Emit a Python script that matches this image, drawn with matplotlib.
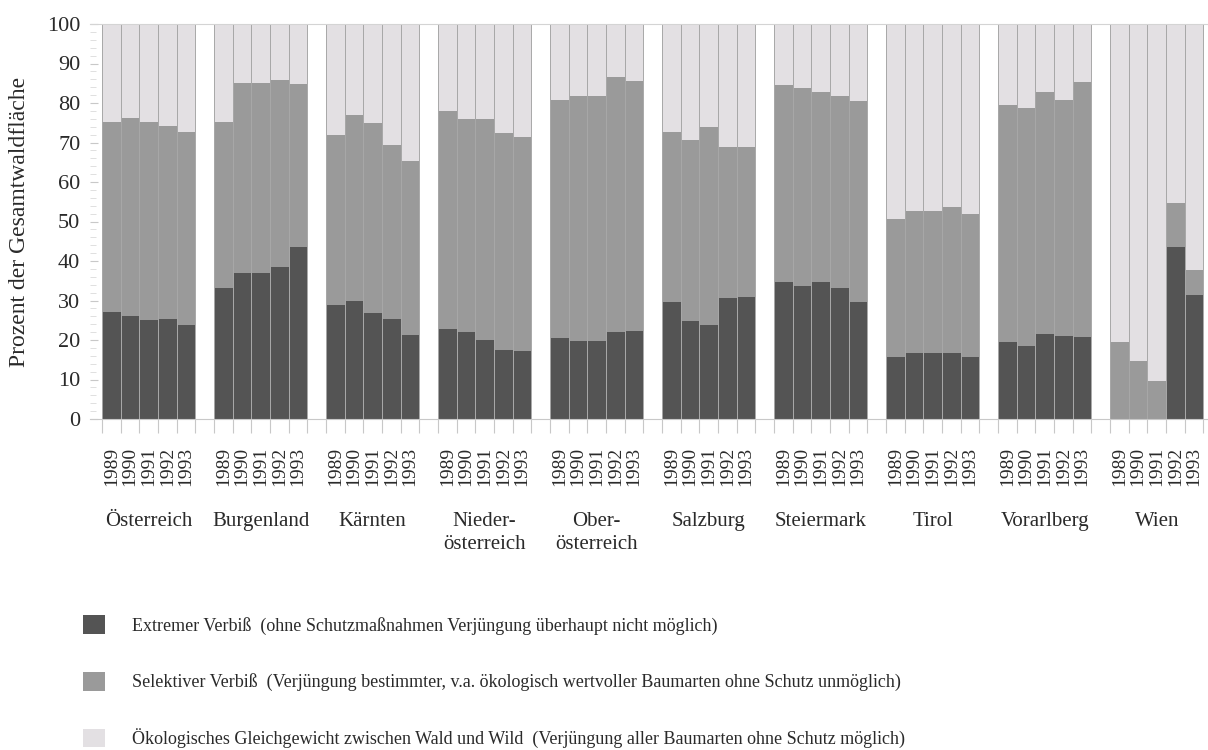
import matplotlib
matplotlib.use('Agg')
import matplotlib.pyplot as plt
from matplotlib.patches import Patch
import matplotlib.transforms as mtransforms

plt.rcParams['font.family'] = ['Liberation Serif', 'DejaVu Serif']

regions = ['Österreich', 'Burgenland', 'Kärnten', 'Nieder-\nösterreich', 'Ober-\nösterreich',
           'Salzburg', 'Steiermark', 'Tirol', 'Vorarlberg', 'Wien']
years = ['1989', '1990', '1991', '1992', '1993']

# Anteil extremer Verbiß (%)
extrem = [
    [27.0, 26.0, 25.0, 25.3, 23.9],
    [33.1, 37.0, 37.0, 38.6, 43.5],
    [28.9, 29.8, 26.8, 25.4, 21.3],
    [22.8, 21.9, 19.9, 17.5, 17.3],
    [20.6, 19.7, 19.7, 21.9, 22.2],
    [29.7, 24.7, 23.9, 30.6, 30.9],
    [34.6, 33.6, 34.6, 33.2, 29.5],
    [15.6, 16.7, 16.7, 16.7, 15.7],
    [19.4, 18.6, 21.5, 20.9, 20.7],
    [0.0, 0.0, 0.0, 43.5, 31.5],
]
# Obergrenze selektiver Verbiß (kumuliert, %)
selektiv_top = [
    [75.1, 76.1, 75.1, 74.3, 72.7],
    [75.1, 85.1, 85.1, 85.9, 84.7],
    [72.0, 76.9, 74.9, 69.3, 65.2],
    [77.9, 75.9, 75.9, 72.4, 71.4],
    [80.8, 81.8, 81.8, 86.7, 85.6],
    [72.7, 70.7, 73.8, 68.8, 68.8],
    [84.6, 83.8, 82.7, 81.7, 80.5],
    [50.7, 52.6, 52.6, 53.7, 52.0],
    [79.6, 78.7, 82.7, 80.7, 85.2],
    [19.6, 14.6, 9.5, 54.7, 37.6],
]

legend_labels = [
    'Extremer Verbiß  (ohne Schutzmaßnahmen Verjüngung überhaupt nicht möglich)',
    'Selektiver Verbiß  (Verjüngung bestimmter, v.a. ökologisch wertvoller Baumarten ohne Schutz unmöglich)',
    'Ökologisches Gleichgewicht zwischen Wald und Wild  (Verjüngung aller Baumarten ohne Schutz möglich)',
]

c_dark = '#545454'
c_mid = '#9a9a9a'
c_light = '#e3e0e3'
c_edge = '#a8a8a8'
c_text = '#2a2a2a'

fig = plt.figure(figsize=(12.08, 7.5), dpi=100)
ax = fig.add_axes([90 / 1208, 331 / 750, 1117 / 1208, 395 / 750])

xs, dark, mid, light, tick_labels, edges = [], [], [], [], [], []
for g in range(len(regions)):
    for j in range(len(years)):
        x = g * 6 + j
        xs.append(x)
        d = extrem[g][j]
        s = selektiv_top[g][j]
        dark.append(d)
        mid.append(s - d)
        light.append(100 - s)
        tick_labels.append(years[j])
    edges += [g * 6 + k for k in range(6)]

ax.bar(xs, dark, width=1, align='edge', color=c_dark, linewidth=0)
ax.bar(xs, mid, bottom=dark, width=1, align='edge', color=c_mid, linewidth=0)
bott = [d + m for d, m in zip(dark, mid)]
ax.bar(xs, light, bottom=bott, width=1, align='edge', color=c_light, linewidth=0)
# thin separators between the single years
ax.bar(xs, [100] * len(xs), width=1, align='edge', facecolor='none',
       edgecolor=c_edge, linewidth=0.7)

ax.set_xlim(-0.64, 59.19)
ax.set_ylim(0, 100)

ax.set_xticks([x + 0.5 for x in xs])
ax.set_xticklabels(tick_labels, rotation=90, fontsize=14, color=c_text)
ax.set_xticks(edges, minor=True)
ax.tick_params(axis='x', which='major', length=0, pad=20)
ax.tick_params(axis='x', which='minor', length=10, color='#c8c8c8', width=0.8)

ax.set_yticks(range(0, 101, 10))
ax.set_yticks(range(0, 101, 2), minor=True)
ax.tick_params(axis='y', which='major', direction='in', length=6, color='#c8c8c8',
               labelsize=16, pad=7, labelcolor=c_text)
ax.tick_params(axis='y', which='minor', direction='in', length=4, color='#dadada')
ax.set_ylabel('Prozent der Gesamtwaldfläche', fontsize=17, color=c_text, labelpad=12)

for side in ['right', 'left']:
    ax.spines[side].set_visible(False)
ax.spines['top'].set_color('#d4d4d4')
ax.spines['bottom'].set_color('#c8c8c8')

trans = mtransforms.blended_transform_factory(ax.transData, fig.transFigure)
for g, name in enumerate(regions):
    ax.text(g * 6 + 2.5, 1 - 512 / 750, name, transform=trans, ha='center', va='top',
            fontsize=15, color=c_text, linespacing=1.3)

handles = [Patch(facecolor=c, edgecolor='none') for c in (c_dark, c_mid, c_light)]
fig.legend(handles, legend_labels, loc='upper left', bbox_to_anchor=(67 / 1208, 1 - 599 / 750),
           frameon=False, fontsize=13, handlelength=1.22, handleheight=1.22,
           handletextpad=1.5, labelspacing=2.05, labelcolor=c_text)

fig.savefig('out.png', dpi=100)
